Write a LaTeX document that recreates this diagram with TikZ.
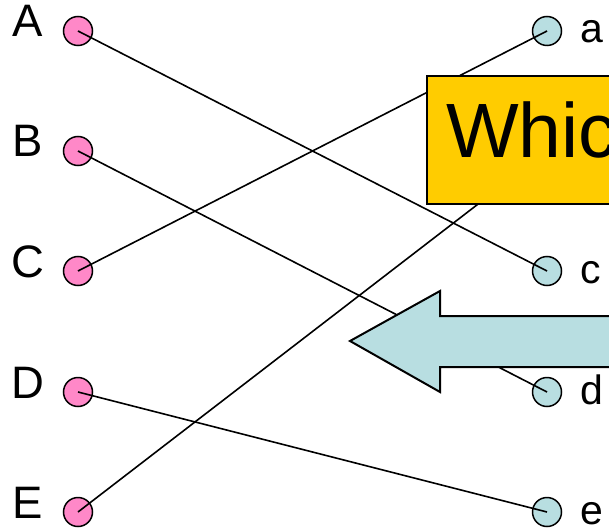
\documentclass[tikz,border=0pt]{standalone}
\usepackage{fontspec}
\setmainfont{Liberation Sans}
\usetikzlibrary{positioning}
\definecolor{dotpink}{RGB}{255,136,200}
\definecolor{dotcyan}{RGB}{184,222,225}
\definecolor{qyellow}{RGB}{255,204,0}

\begin{document}
\begin{tikzpicture}[x=1pt,y=-1pt,
        ldot/.style={circle,draw=black,fill=dotpink,minimum size=29pt,inner sep=0pt,line width=1.5pt},
        rdot/.style={circle,draw=black,fill=dotcyan,minimum size=29pt,inner sep=0pt,line width=1.5pt},
        capl/.style={anchor=base,inner sep=0pt,font=\fontsize{45.5}{52}\selectfont},
        smalll/.style={anchor=base west,inner sep=0pt,font=\fontsize{41}{48}\selectfont},
        link/.style={draw=black,line width=1.6pt},
        qbox/.style={draw=black,fill=qyellow,line width=2pt,anchor=north west,
                     minimum width=300pt,minimum height=128pt,inner sep=0pt}]
        \useasboundingbox (0,0) rectangle (609,529);
        \clip (0,0) rectangle (609,529);
        % dots and letters, one row every 120.3pt
        \foreach \i/\y/\c in {1/31/A,2/151/B,3/271/C,4/392/D,5/512/E}
          {\node[ldot](l\i) at (78,\y){};
           \node[rdot](r\i) at (547,\y){};
           \node[capl](lt\i) at (28,\y+6){\c};}
        \foreach \i/\y/\s in {1/31/a,3/271/c,4/392/d,5/512/e}
          {\node[smalll](rt\i) at (580,\y+12){\s};}
        % matching lines, over the dots
        \foreach \a/\b in {1/3,2/4,3/1,4/5,5/2}
          {\draw[link](l\a.center)--(r\b.center);}
        \node[qbox](q) at (426,75){};
        \node[anchor=base west,inner sep=0pt,font=\fontsize{77}{90}\selectfont] (qt) at (446,158){Whic};
        % big arrow pointing left
        \draw[fill=dotcyan,line width=2pt,line join=miter]
          (350,341) -- (440,291) -- (440,316) -- (640,316) -- (640,367)
          -- (440,367) -- (440,392) -- cycle;
      \end{tikzpicture}
\end{document}
